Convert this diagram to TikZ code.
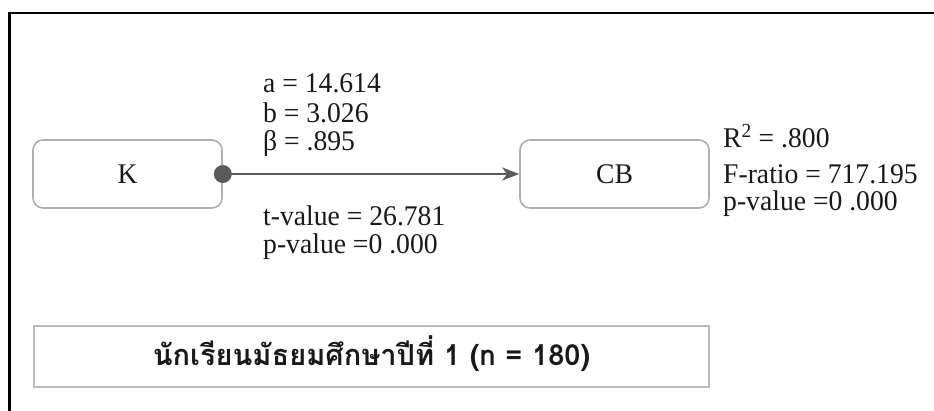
\documentclass[tikz,border=0pt]{standalone}
\usepackage{fontspec}
\setmainfont{Liberation Serif}[FakeStretch=0.97]
\newfontfamily\thaifont[Script=Thai]{Loma}
\usetikzlibrary{arrows.meta}
\definecolor{boxgray}{RGB}{175,175,175}
\definecolor{linegray}{RGB}{90,90,90}
\definecolor{txt}{RGB}{25,25,25}
\tikzset{
  varbox/.style={draw=boxgray, line width=1.6pt, rounded corners=10pt, minimum width=189pt, minimum height=68pt, inner sep=0pt, font=\fontsize{28.5}{30}\selectfont, text=txt},
  stat/.style={anchor=base west, inner sep=0pt, font=\fontsize{28.5}{30}\selectfont, text=txt},
  groupbox/.style={draw=boxgray!85, line width=1.4pt, minimum width=675pt, minimum height=61pt, inner sep=0pt},
}
\begin{document}
\begin{tikzpicture}[x=1pt,y=-1pt]
\useasboundingbox (0,0) rectangle (934,410);
% outer frame
\draw[line width=2.2pt, black] (9.5,420) -- (9.5,13) -- (945,13);
% variables
\node[varbox] (K) at (127.5,174) {K};
\node[varbox] (CB) at (614.5,174) {CB};
% connector
\fill[linegray] (K.east) circle (9pt);
\draw[linegray, line width=2.6pt, -{Stealth[length=17pt,width=13pt,inset=5pt]}] (K.east) -- (CB.west);
% statistics
\node[stat] (a) at (263,92) {a = 14.614};
\node[stat] (b) at (263,122) {b = 3.026};
\node[stat] (beta) at (263,150) {β = .895};
\node[stat] (t) at (263,225) {t-value = 26.781};
\node[stat] (p1) at (263,253) {p-value =0 .000};
\node[stat] (r2) at (723,147) {R\textsuperscript{2} = .800};
\node[stat] (f) at (723,183) {F-ratio = 717.195};
\node[stat] (p2) at (723,210) {p-value =0 .000};
% group box
\node[groupbox] (g) at (371.5,356.5) {};
\node[anchor=base, inner sep=0pt, text=txt, font=\thaifont\bfseries\fontsize{29}{31}\selectfont] (gt) at (371.5,365) {นักเรียนมัธยมศึกษาปีที่ 1 (n = 180)};
\end{tikzpicture}
\end{document}
